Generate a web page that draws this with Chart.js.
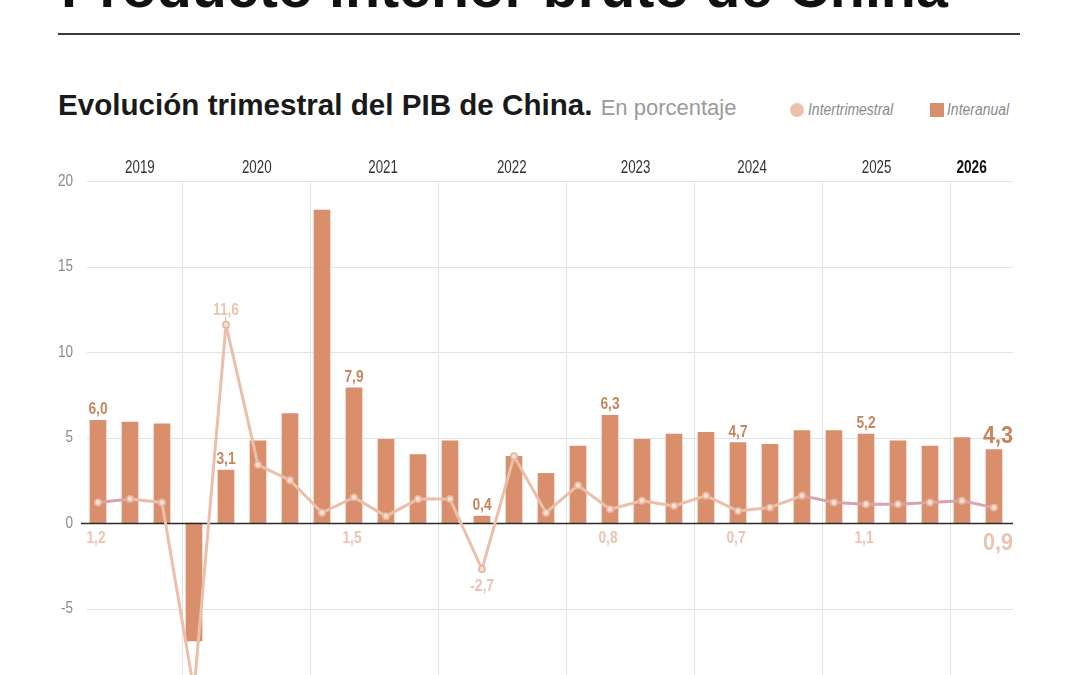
<!DOCTYPE html>
<html>
<head>
<meta charset="utf-8">
<script src="https://cdn.jsdelivr.net/npm/chart.js@4.4.1/dist/chart.umd.min.js"></script>
<style>
    html, body { margin: 0; width: 1080px; height: 675px; overflow: hidden; background: #fff; font-family: "Liberation Sans", Arial, sans-serif; }
    #bigTitle { position: absolute; left: 61px; top: -34px; font-weight: bold; font-size: 50px; line-height: 1; color: #111; white-space: nowrap; }
    #rule { position: absolute; left: 58px; top: 33px; width: 962px; height: 2px; background: #3a3a3a; }
    #sub { position: absolute; left: 58px; top: 90px; font-size: 29.6px; line-height: 1; font-weight: bold; color: #1a1a1a; white-space: nowrap; }
    #sub span { font-weight: normal; font-size: 22px; color: #9a9a9a; }
    .leg { position: absolute; top: 101px; font-style: italic; font-size: 17px; line-height: 1; color: #8a8a8a; white-space: nowrap; transform: scaleX(0.82); transform-origin: left top; }
    .dot { position: absolute; left: 790px; top: 103px; width: 14px; height: 14px; border-radius: 50%; background: #ecc1ab; }
    .sq { position: absolute; left: 930px; top: 103px; width: 14px; height: 14px; background: #d98f6c; }
    #c { position: absolute; left: 0; top: 0; }
</style>
</head>
<body>
<div id="bigTitle">Producto interior bruto de China</div>
<div id="rule"></div>
<div id="sub">Evolución trimestral del PIB de China. <span>En porcentaje</span></div>
<div class="dot"></div><div class="leg" style="left:808px">Intertrimestral</div>
<div class="sq"></div><div class="leg" style="left:947px">Interanual</div>
<canvas id="c" width="1080" height="720"></canvas>
<script>
// trimestres (desde el II trimestre de 2019)
var quarters = [
    'II-19', 'III-19', 'IV-19',
    'I-20', 'II-20', 'III-20', 'IV-20',
    'I-21', 'II-21', 'III-21', 'IV-21',
    'I-22', 'II-22', 'III-22', 'IV-22',
    'I-23', 'II-23', 'III-23', 'IV-23',
    'I-24', 'II-24', 'III-24', 'IV-24',
    'I-25', 'II-25', 'III-25', 'IV-25',
    'I-26', 'II-26'
];
var interanual = [
    6.0, 5.9, 5.8,
    -6.9, 3.1, 4.8, 6.4,
    18.3, 7.9, 4.9, 4.0,
    4.8, 0.4, 3.9, 2.9,
    4.5, 6.3, 4.9, 5.2,
    5.3, 4.7, 4.6, 5.4,
    5.4, 5.2, 4.8, 4.5,
    5.0, 4.3
];
var intertrimestral = [
    1.2, 1.4, 1.2,
    -9.8, 11.6, 3.4, 2.5,
    0.6, 1.5, 0.4, 1.4,
    1.4, -2.7, 3.9, 0.6,
    2.2, 0.8, 1.3, 1.0,
    1.6, 0.7, 0.9, 1.6,
    1.2, 1.1, 1.1, 1.2,
    1.3, 0.9
];
var years = ['2019', '2020', '2021', '2022', '2023', '2024', '2025', '2026'];
var yearStartIdx = [3, 7, 11, 15, 19, 23, 27];   // primer trimestre de 2020..2026
var labeledIdx = [0, 4, 8, 12, 16, 20, 24, 28];

// layout constants
var yearLabelPos = [1.31, 4.96, 8.91, 12.93, 16.8, 20.44, 24.33, 27.3];
var pinkSegments = [0, 22, 23, 24, 25, 26, 27];
var FONT = '"Liberation Sans", Arial, sans-serif';
var BAR = '#d98f6c', LINE = '#ebbfa9', PINK = '#d9a3ac';
var BAR_TXT = '#c7845f', LINE_TXT = '#e9c4b1';

// fit big title width
(function () {
    var t = document.getElementById('bigTitle');
    var w = t.getBoundingClientRect().width;
    var fs = 50 * 887 / w;
    t.style.fontSize = fs + 'px';
    t.style.top = (8 - 0.8465 * fs) + 'px';
})();

function fmt(v) { return v.toFixed(1).replace('.', ','); }

// narrow text: regular font squeezed horizontally
function narrowText(ctx, text, x, y, sx) {
    ctx.save();
    ctx.translate(x, y);
    ctx.scale(sx, 1);
    ctx.fillText(text, 0, 0);
    ctx.restore();
}

var decorations = {
    id: 'decorations',
    beforeDatasetsDraw(chart) {
        var ctx = chart.ctx, x = chart.scales.x, y = chart.scales.y, a = chart.chartArea;
        ctx.save();
        ctx.strokeStyle = '#e2e2e2';
        ctx.lineWidth = 1;
        y.ticks.forEach(function (t) {
            if (t.value === 0 || t.value === y.min) return;
            var py = Math.round(y.getPixelForValue(t.value)) + 0.5;
            ctx.beginPath();
            ctx.moveTo(a.left + 5, py);
            ctx.lineTo(a.right + 3, py);
            ctx.stroke();
        });
        yearStartIdx.forEach(function (i) {
            var px = Math.round(x.getPixelForValue(i) - 12) + 0.5;
            ctx.beginPath();
            ctx.moveTo(px, a.top);
            ctx.lineTo(px, a.bottom);
            ctx.stroke();
        });
        // y tick labels
        ctx.fillStyle = '#8a8a8a';
        ctx.font = '16.5px ' + FONT;
        ctx.textAlign = 'right';
        ctx.textBaseline = 'middle';
        y.ticks.forEach(function (t) {
            if (t.value === y.min) return;
            narrowText(ctx, String(t.value), 73, y.getPixelForValue(t.value), 0.82);
        });
        ctx.restore();
    },
    afterDatasetDraw(chart, args) {
        if (args.index !== 0) return;
        var ctx = chart.ctx, y = chart.scales.y, a = chart.chartArea;
        var py = Math.round(y.getPixelForValue(0)) + 0.5;
        ctx.save();
        ctx.strokeStyle = '#2b2b2b';
        ctx.lineWidth = 1.5;
        ctx.beginPath();
        ctx.moveTo(a.left - 1, py);
        ctx.lineTo(a.right + 3, py);
        ctx.stroke();
        ctx.restore();
    },
    afterDatasetsDraw(chart) {
        var ctx = chart.ctx, y = chart.scales.y;
        var bars = chart.getDatasetMeta(0).data, pts = chart.getDatasetMeta(1).data;
        var zeroY = y.getPixelForValue(0);
        var last = interanual.length - 1;
        ctx.save();
        ctx.textAlign = 'center';
        labeledIdx.forEach(function (i) {
            var big = i === last;
            var b = bars[i];
            ctx.fillStyle = BAR_TXT;
            ctx.font = 'bold ' + (big ? 24 : 16) + 'px ' + FONT;
            ctx.textBaseline = 'alphabetic';
            narrowText(ctx, fmt(interanual[i]), b.x + (big ? 4 : 0), b.y - 6, big ? 0.9 : 0.86);

            var p = pts[i], v = intertrimestral[i];
            ctx.fillStyle = LINE_TXT;
            ctx.font = 'bold ' + (big ? 24 : 16) + 'px ' + FONT;
            if (v > 5) {
                narrowText(ctx, fmt(v), p.x, p.y - 10, 0.86);
            } else if (v < 0) {
                narrowText(ctx, fmt(v), p.x, p.y + 22, 0.86);
            } else {
                narrowText(ctx, fmt(v), p.x + (big ? 4 : -2), zeroY + (big ? 27 : 20), big ? 0.9 : 0.86);
            }
        });
        ctx.restore();
    },
    afterDraw(chart) {
        var ctx = chart.ctx, x = chart.scales.x;
        var step = x.getPixelForValue(1) - x.getPixelForValue(0);
        var x0 = x.getPixelForValue(0);
        ctx.save();
        ctx.textAlign = 'center';
        ctx.textBaseline = 'alphabetic';
        years.forEach(function (yr, k) {
            var isLast = k === years.length - 1;
            ctx.font = (isLast ? 'bold ' : '') + '18px ' + FONT;
            ctx.fillStyle = isLast ? '#111' : '#333';
            narrowText(ctx, yr, x0 + yearLabelPos[k] * step, 173, isLast ? 0.76 : 0.74);
        });
        ctx.restore();
    }
};

new Chart(document.getElementById('c'), {
    data: {
        labels: quarters,
        datasets: [
            {
                type: 'bar',
                label: 'Interanual',
                data: interanual,
                backgroundColor: BAR,
                barThickness: 16,
                order: 2
            },
            {
                type: 'line',
                label: 'Intertrimestral',
                data: intertrimestral,
                borderColor: LINE,
                borderWidth: 3,
                tension: 0,
                pointRadius: 3.2,
                pointBorderWidth: 1.5,
                pointBackgroundColor: '#f4dcd0',
                pointBorderColor: '#e6b7a0',
                segment: {
                    borderColor: function (c) { return pinkSegments.indexOf(c.p0DataIndex) >= 0 ? PINK : LINE; }
                },
                order: 1
            }
        ]
    },
    options: {
        responsive: false,
        animation: false,
        layout: { padding: { top: 181, right: 70, bottom: 26, left: 0 } },
        plugins: {
            legend: { display: false },
            tooltip: { enabled: false }
        },
        scales: {
            x: {
                display: false,
                offset: true,
                grid: { display: false }
            },
            y: {
                min: -10,
                max: 20,
                afterFit: function (s) { s.width = 82; },
                border: { display: false },
                grid: { display: false },
                ticks: { stepSize: 5, display: false }
            }
        }
    },
    plugins: [decorations]
});
</script>
</body>
</html>
